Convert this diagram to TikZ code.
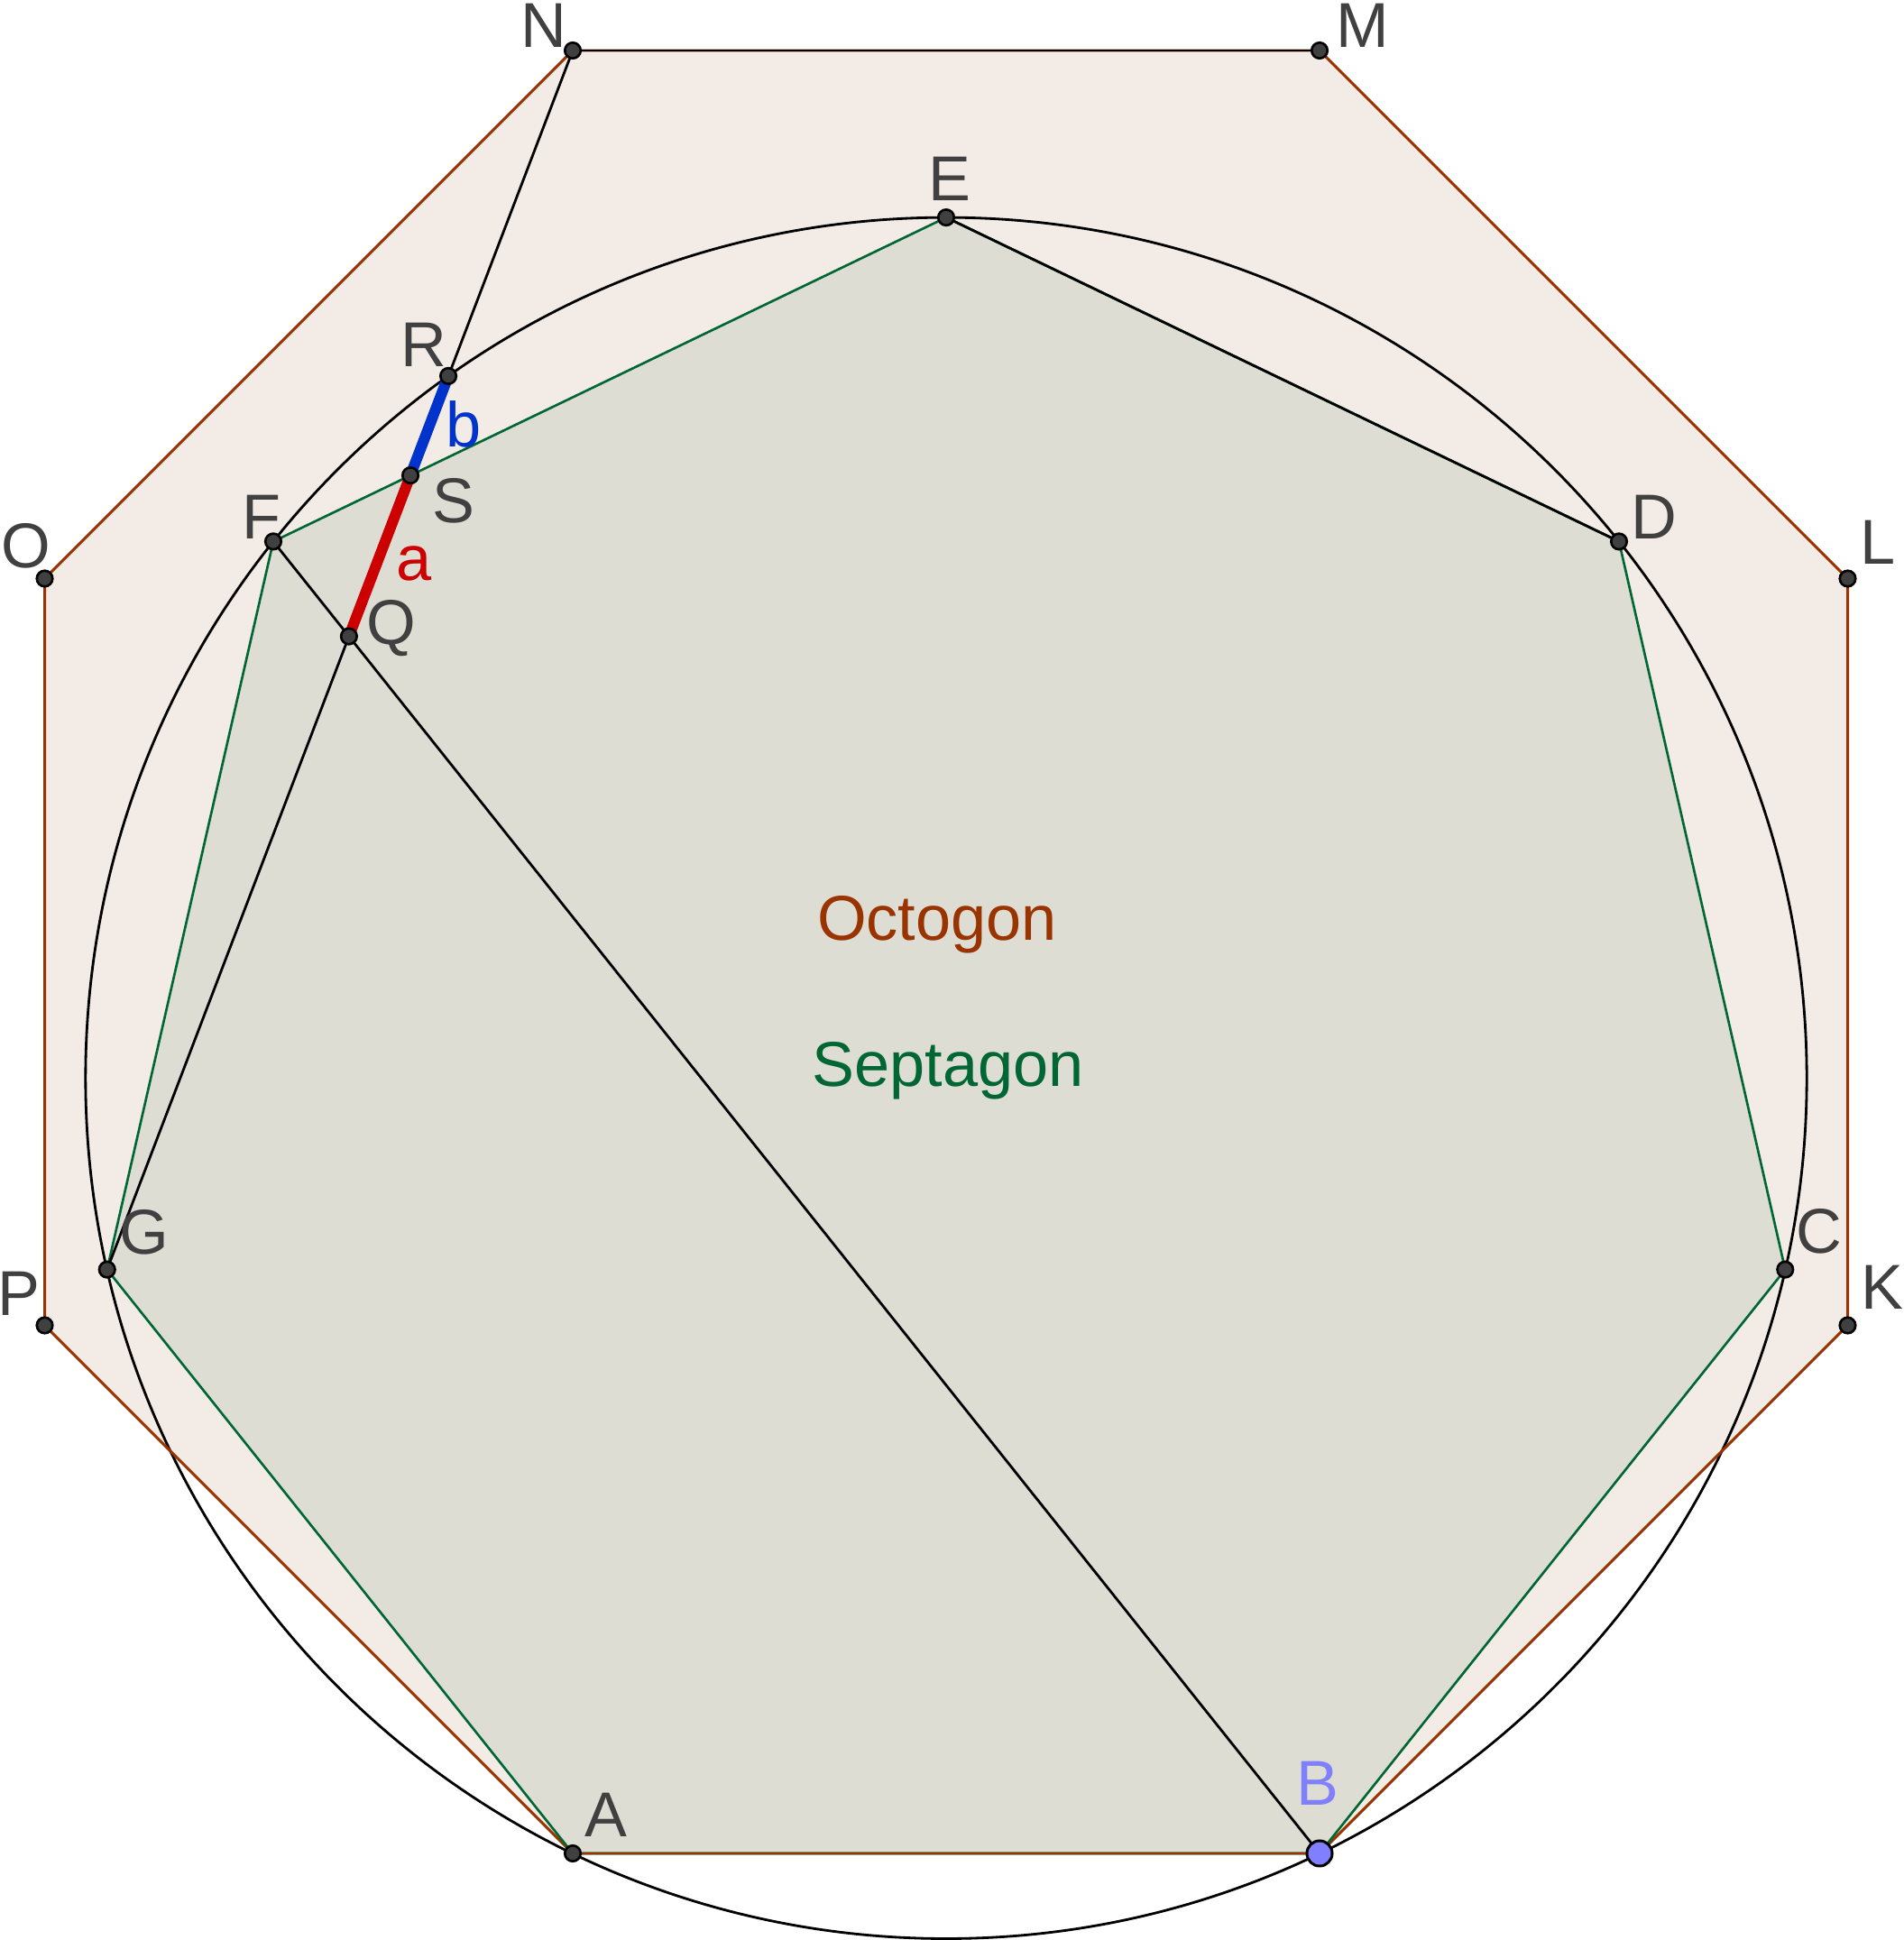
\documentclass[tikz,border=0pt]{standalone}
\usepackage{fontspec}
\setmainfont{Liberation Sans}
\usetikzlibrary{calc,intersections}

\definecolor{octbrown}{RGB}{153,51,0}
\definecolor{octfill}{RGB}{243,235,230}
\definecolor{sepgreen}{RGB}{0,102,51}
\definecolor{sepfill}{RGB}{221,221,212}
\definecolor{lblgray}{RGB}{64,64,64}
\definecolor{segred}{RGB}{204,0,0}
\definecolor{segblue}{RGB}{0,51,204}
\definecolor{freept}{RGB}{128,128,255}

\begin{document}
\begin{tikzpicture}[
    pt/.style={circle, draw=black, line width=0.75pt, fill=lblgray, inner sep=0pt, minimum size=0.175cm},
    bigpt/.style={circle, draw=black, line width=0.85pt, fill=freept, inner sep=0pt, minimum size=0.28cm},
    lbl/.style={text=lblgray, font=\fontsize{20}{24}\selectfont, inner sep=0pt},
    octedge/.style={draw=octbrown, line width=0.85pt},
    sepedge/.style={draw=sepgreen, line width=0.75pt},
    blk/.style={draw=black, line width=0.8pt}
]
    \useasboundingbox (0,0) rectangle (21.10,21.51);

    % Septagon vertices
    \coordinate (A) at (6.35,0.96);
    \coordinate (B) at (14.63,0.96);
    \coordinate (C) at (19.7925,7.4336);
    \coordinate (D) at (17.95,15.506);
    \coordinate (E) at (10.49,19.0986);
    \coordinate (F) at (3.03,15.506);
    \coordinate (G) at (1.1875,7.4336);
    \coordinate (ctr) at (10.49,9.5568);

    % Octagon vertices
    \coordinate (K) at (20.4848,6.8148);
    \coordinate (L) at (20.4848,15.0948);
    \coordinate (M) at (14.63,20.9497);
    \coordinate (N) at (6.35,20.9497);
    \coordinate (O) at (0.4952,15.0948);
    \coordinate (P) at (0.4952,6.8148);

    % Fills
    \fill[octfill] (A) -- (B) -- (K) -- (L) -- (M) -- (N) -- (O) -- (P) -- cycle;
    \fill[sepfill] (A) -- (B) -- (C) -- (D) -- (E) -- (F) -- (G) -- cycle;

    % Circumcircle
    \draw[blk, name path=circ] (ctr) circle (9.5417);

    % Intersection points
    \coordinate (Q) at (intersection of G--N and F--B);
    \coordinate (S) at (intersection of G--N and F--E);
    \path[name path=sn] (S) -- (N);
    \path[name intersections={of=circ and sn, by=R}];

    % Polygon edges
    \draw[octedge] (A) -- (B) -- (K) -- (L) -- (M) -- (N) -- (O) -- (P) -- cycle;
    \draw[sepedge] (A) -- (B) -- (C) -- (D) -- (E) -- (F) -- (G) -- cycle;
    \draw[octedge] (A) -- (B);

    % Segments
    \draw[blk] (E) -- (D);
    \draw[blk] (N) -- (M);
    \draw[blk] (F) -- (B);
    \draw[blk] (G) -- (N);
    \draw[segred, line width=3.4pt] (Q) -- (S);
    \draw[segblue, line width=3.4pt] (S) -- (R);

    % Points
    \node[pt] (pA) at (A) {};
    \node[pt] (pC) at (C) {};
    \node[pt] (pD) at (D) {};
    \node[pt] (pE) at (E) {};
    \node[pt] (pF) at (F) {};
    \node[pt] (pG) at (G) {};
    \node[pt] (pK) at (K) {};
    \node[pt] (pL) at (L) {};
    \node[pt] (pM) at (M) {};
    \node[pt] (pN) at (N) {};
    \node[pt] (pO) at (O) {};
    \node[pt] (pP) at (P) {};
    \node[pt] (pQ) at (Q) {};
    \node[pt] (pR) at (R) {};
    \node[pt] (pS) at (S) {};
    \node[bigpt] (pB) at (B) {};

    % Labels
    \node[lbl] (lA) at (6.72,1.39) {A};
    \node[lbl, text=freept] (lB) at (14.61,1.74) {B};
    \node[lbl] (lC) at (20.17,7.86) {C};
    \node[lbl] (lD) at (18.34,15.78) {D};
    \node[lbl] (lE) at (10.53,19.53) {E};
    \node[lbl] (lF) at (2.90,15.78) {F};
    \node[lbl] (lG) at (1.60,7.85) {G};
    \node[lbl] (lK) at (20.87,7.24) {K};
    \node[lbl] (lL) at (20.82,15.50) {L};
    \node[lbl] (lM) at (15.11,21.23) {M};
    \node[lbl] (lN) at (6.03,21.23) {N};
    \node[lbl] (lO) at (0.29,15.46) {O};
    \node[lbl] (lP) at (0.21,7.17) {P};
    \node[lbl] (lQ) at (4.34,14.54) {Q};
    \node[lbl] (lR) at (4.70,17.69) {R};
    \node[lbl] (lS) at (5.03,15.96) {S};
    \node[lbl, text=segred] (la) at (4.59,15.26) {a};
    \node[lbl, text=segblue] (lb) at (5.14,16.81) {b};

    % Polygon names
    \node[lbl, text=octbrown, anchor=base] (octname) at (10.39,11.08) {Octogon};
    \node[lbl, text=sepgreen, anchor=base] (sepname) at (10.51,9.46) {Septagon};
\end{tikzpicture}
\end{document}
